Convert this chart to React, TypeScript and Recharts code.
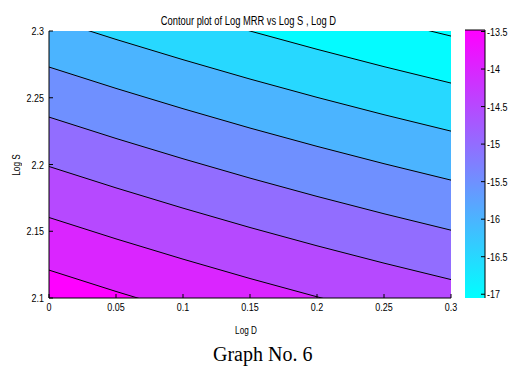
import React from "react";
import {
  ComposedChart,
  Area,
  Line,
  XAxis,
  YAxis,
  CartesianGrid,
} from "recharts";

// Log D samples along the x axis
const logD = [0, 0.05, 0.1, 0.15, 0.2, 0.25, 0.3];

// contour levels of Log MRR
const levels = [-17, -16.5, -16, -15.5, -15, -14.5, -14, -13.5];

// Log S of each contour line at the logD samples
const lineM170 = [2.3809, 2.3649, 2.3497, 2.3352, 2.3215, 2.3085, 2.2962];
const lineM165 = [2.3457, 2.3297, 2.3145, 2.3, 2.2863, 2.2733, 2.261];
const lineM160 = [2.3097, 2.2937, 2.2785, 2.264, 2.2503, 2.2373, 2.225];
const lineM155 = [2.273, 2.257, 2.2418, 2.2273, 2.2136, 2.2006, 2.1883];
const lineM150 = [2.2355, 2.2195, 2.2043, 2.1898, 2.1761, 2.1631, 2.1508];
const lineM145 = [2.1985, 2.1825, 2.1673, 2.1528, 2.1391, 2.1261, 2.1138];
const lineM140 = [2.1603, 2.1443, 2.1291, 2.1146, 2.1009, 2.0879, 2.0756];
const lineM135 = [2.1209, 2.1049, 2.0897, 2.0752, 2.0615, 2.0485, 2.0362];

const xTicks = [0, 0.05, 0.1, 0.15, 0.2, 0.25, 0.3];
const yTicks = [2.1, 2.15, 2.2, 2.25, 2.3];
const cbTicks = [-17, -16.5, -16, -15.5, -15, -14.5, -14, -13.5];
const colorLimits = [-17.05, -13.48];

const contourLines = [
  lineM170,
  lineM165,
  lineM160,
  lineM155,
  lineM150,
  lineM145,
  lineM140,
  lineM135,
];

const data = logD.map((d, i) => {
  const row: Record<string, number> = { logD: d };
  contourLines.forEach((line, k) => {
    row["c" + k] = line[i];
  });
  return row;
});

const cbData = [
  { x: 0, cb: colorLimits[1] },
  { x: 1, cb: colorLimits[1] },
];

// matlab "cool" colormap
const cool = (v: number) => {
  const t = Math.min(1, Math.max(0, (v - colorLimits[0]) / (colorLimits[1] - colorLimits[0])));
  return `rgb(${Math.round(255 * t)},${Math.round(255 * (1 - t))},255)`;
};

const FONT = "'Liberation Sans', Arial, sans-serif";
const SQUEEZE = 0.78; // matlab's axis font is a narrow face

// tick label squeezed horizontally
const NarrowTick = (props: any) => {
  const { x, y, payload, textAnchor, verticalAnchor } = props;
  const dy = verticalAnchor === "start" ? "0.71em" : verticalAnchor === "end" ? "0" : "0.355em";
  return (
    <text
      transform={`translate(${x} ${y}) scale(${SQUEEZE} 1)`}
      x={0}
      y={0}
      dy={dy}
      textAnchor={textAnchor}
      fill="#000"
      fontSize={11.5}
      fontFamily={FONT}
    >
      {String(payload.value)}
    </text>
  );
};

const narrowText = (size: number): React.CSSProperties => ({
  display: "inline-block",
  fontFamily: FONT,
  fontSize: size,
  lineHeight: 1,
  color: "#000",
  whiteSpace: "nowrap",
  transform: `scaleX(${SQUEEZE})`,
});

export default function App() {
  return (
    <div
      style={{
        position: "absolute",
        left: 0,
        top: 0,
        width: 510,
        height: 367,
        background: "#fff",
        overflow: "hidden",
      }}
    >
      <div style={{ position: "absolute", left: 0, top: 0 }}>
        <ComposedChart
          width={510}
          height={367}
          data={data}
          margin={{ top: 31, right: 59, bottom: 38, left: 9 }}
        >
          <CartesianGrid horizontal={false} vertical={false} fill={cool(colorLimits[0])} />
          <XAxis
            dataKey="logD"
            type="number"
            domain={[0, 0.3]}
            ticks={xTicks}
            height={31}
            stroke="#000"
            tickSize={-4}
            tickMargin={9}
            tick={<NarrowTick />}
          />
          <XAxis
            xAxisId="top"
            dataKey="logD"
            orientation="top"
            type="number"
            domain={[0, 0.3]}
            ticks={xTicks}
            height={0}
            stroke="#000"
            tickSize={-4}
            tick={false}
          />
          <YAxis
            type="number"
            domain={[2.1, 2.3]}
            ticks={yTicks}
            allowDataOverflow
            width={40}
            stroke="#000"
            tickSize={-4}
            tickMargin={9}
            tick={<NarrowTick />}
          />
          <YAxis
            yAxisId="right"
            orientation="right"
            type="number"
            domain={[2.1, 2.3]}
            ticks={yTicks}
            allowDataOverflow
            width={0}
            stroke="#000"
            tickSize={-4}
            tick={false}
          />
          {contourLines.map((_, k) => (
            <Area
              key={k}
              type="linear"
              dataKey={"c" + k}
              stroke="#000"
              strokeWidth={1}
              fill={cool(levels[k])}
              fillOpacity={1}
              dot={false}
              activeDot={false}
              isAnimationActive={false}
            />
          ))}
          {/* carries the top / right box axes */}
          <Line
            xAxisId="top"
            yAxisId="right"
            dataKey="c3"
            stroke="none"
            dot={false}
            activeDot={false}
            isAnimationActive={false}
          />
        </ComposedChart>
      </div>

      {/* colorbar */}
      <div style={{ position: "absolute", left: 0, top: 0 }}>
        <ComposedChart
          width={510}
          height={367}
          data={cbData}
          margin={{ top: 30, right: 0, bottom: 69, left: 465 }}
        >
          <defs>
            <linearGradient id="coolMap" x1="0" y1="1" x2="0" y2="0">
              <stop offset="0%" stopColor={cool(colorLimits[0])} />
              <stop offset="100%" stopColor={cool(colorLimits[1])} />
            </linearGradient>
          </defs>
          <XAxis dataKey="x" type="number" domain={[0, 1]} height={0} stroke="#000" tick={false} tickLine={false} />
          <YAxis
            yAxisId="cbl"
            type="number"
            domain={colorLimits}
            ticks={cbTicks}
            width={0}
            stroke="#000"
            tickSize={-4}
            tick={false}
          />
          <YAxis
            yAxisId="cb"
            orientation="right"
            type="number"
            domain={colorLimits}
            ticks={cbTicks}
            width={25}
            stroke="#000"
            tickSize={-4}
            tickMargin={6}
            tick={<NarrowTick />}
          />
          <Area
            yAxisId="cb"
            type="linear"
            dataKey="cb"
            baseValue={colorLimits[0]}
            fill="url(#coolMap)"
            fillOpacity={1}
            stroke="#000"
            strokeWidth={1}
            dot={false}
            activeDot={false}
            isAnimationActive={false}
          />
          <Line
            yAxisId="cbl"
            dataKey="cb"
            stroke="none"
            dot={false}
            activeDot={false}
            isAnimationActive={false}
          />
        </ComposedChart>
      </div>

      {/* title */}
      <div style={{ position: "absolute", left: 0, width: 497, top: 11, textAlign: "center" }}>
        <span style={narrowText(12)}>Contour plot of Log MRR vs Log S , Log D</span>
      </div>

      {/* axis labels */}
      <div style={{ position: "absolute", left: 0, width: 493, top: 320, textAlign: "center" }}>
        <span style={narrowText(10.5)}>Log D</span>
      </div>
      <div
        style={{
          position: "absolute",
          left: 15,
          top: 165,
          transform: "translate(-50%, -50%) rotate(-90deg)",
          whiteSpace: "nowrap",
        }}
      >
        <span style={narrowText(10.5)}>Log S</span>
      </div>

      <div
        style={{
          position: "absolute",
          left: 213,
          top: 344,
          fontFamily: "'Liberation Serif', 'Times New Roman', serif",
          fontSize: 20,
          lineHeight: 1,
          color: "#000",
          whiteSpace: "nowrap",
        }}
      >
        Graph No. 6
      </div>
    </div>
  );
}
